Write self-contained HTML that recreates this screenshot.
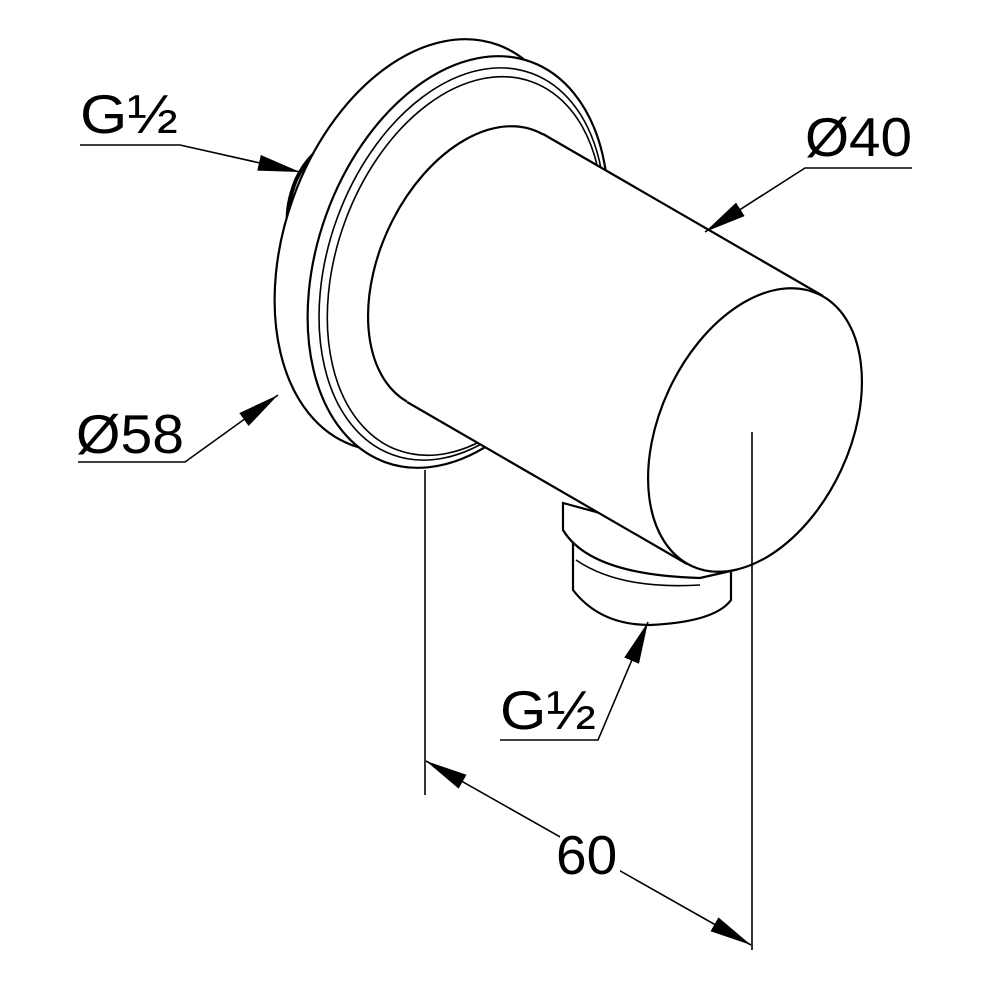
<!DOCTYPE html>
<html><head><meta charset="utf-8"><style>html,body{margin:0;padding:0;background:#fff}svg{display:block}</style></head>
<body>
<svg width="1000" height="1000" viewBox="0 0 1000 1000" xmlns="http://www.w3.org/2000/svg">
<defs>
<marker id="a" markerUnits="userSpaceOnUse" markerWidth="44" markerHeight="20" refX="42" refY="8" orient="auto">
<path d="M0,0 L42,8 L0,16 Z" fill="#000"/>
</marker>
<marker id="b" markerUnits="userSpaceOnUse" markerWidth="44" markerHeight="20" refX="0" refY="8" orient="auto">
<path d="M42,0 L0,8 L42,16 Z" fill="#000"/>
</marker>
</defs>
<g fill="#fff" stroke="#000" stroke-width="2.2">
<path d="M338,138 Q310,150 296,180 Q286,205 288,225" fill="none" stroke-width="4"/>
<ellipse cx="425" cy="245" rx="213" ry="140" transform="rotate(-70 425 245)"/>
<ellipse cx="458" cy="262" rx="213" ry="140" transform="rotate(-70 458 262)"/>
<ellipse cx="462" cy="264" rx="203" ry="133" transform="rotate(-70 462 264)" stroke-width="1.6"/>
<ellipse cx="465" cy="266" rx="196" ry="128" transform="rotate(-70 465 266)" stroke-width="1.6"/>
<path d="M573,540 L573,590 Q600,625 650,625 Q715,622 731,600 L731,565 Z"/>
<path d="M563,503 L563,530 Q590,575 700,578 L735,570 L700,540 Z"/>
<path d="M576,560 Q620,590 700,585" fill="none" stroke-width="1.6"/>
<ellipse cx="475" cy="268" rx="150" ry="95" transform="rotate(-65 475 268)" stroke="none"/>
<path d="M543,134 L823,296 L687,564 L407,402 Z" stroke="none"/>
<g transform="rotate(-65 475 268)">
<path d="M624.8,273.3 A150,95 0 0 0 325.2,262.7" fill="none"/>
</g>
<line x1="543" y1="134" x2="823" y2="296"/>
<line x1="407" y1="402" x2="687" y2="564"/>
<ellipse cx="755" cy="430" rx="150" ry="95" transform="rotate(-65 755 430)"/>
</g>
<g stroke="#000" stroke-width="1.6" fill="none">
<line x1="425" y1="470" x2="425" y2="795"/>
<line x1="752" y1="432" x2="752" y2="950"/>
<line x1="426" y1="761" x2="751" y2="945" marker-start="url(#b)" marker-end="url(#a)"/>
<polyline points="80,145 180,145 300,172" marker-end="url(#a)"/>
<polyline points="912,168 805,168 705,232" marker-end="url(#a)"/>
<polyline points="78,462 185,462 278,395" marker-end="url(#a)"/>
<polyline points="500,740 598,740 648,622" marker-end="url(#a)"/>
</g>
<rect x="560" y="828" width="60" height="48" fill="#fff"/>
<g font-family="Liberation Sans, sans-serif" font-size="55" fill="#000">
<text x="80" y="133" textLength="98" lengthAdjust="spacingAndGlyphs">G½</text>
<text x="805" y="156" textLength="107" lengthAdjust="spacingAndGlyphs">Ø40</text>
<text x="76" y="453" textLength="108" lengthAdjust="spacingAndGlyphs">Ø58</text>
<text x="500" y="729" textLength="96" lengthAdjust="spacingAndGlyphs">G½</text>
<text x="556" y="874">60</text>
</g>
</svg>
</body></html>
